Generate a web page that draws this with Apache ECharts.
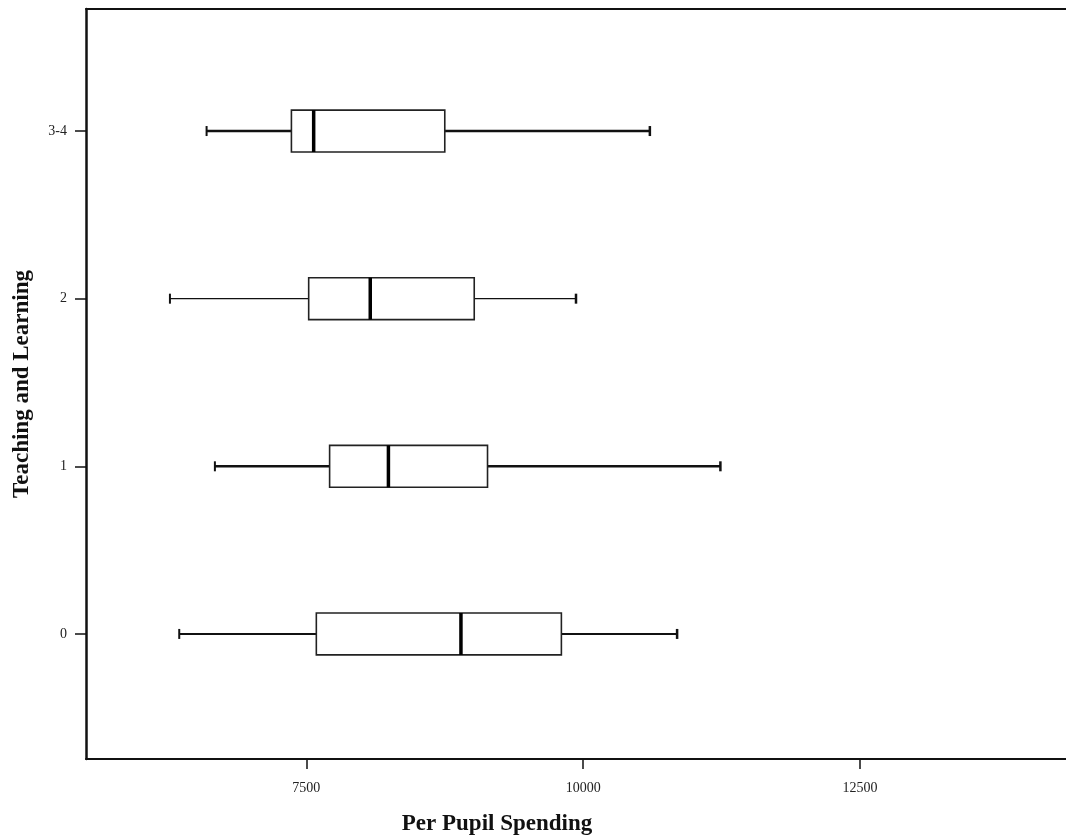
<!DOCTYPE html>
<html>
<head>
<meta charset="utf-8">
<script src="https://cdn.jsdelivr.net/npm/echarts@6/dist/echarts.min.js"></script>
<style>
  html, body { margin: 0; padding: 0; background: #fff; }
  #chart { width: 1066px; height: 838px; }
</style>
</head>
<body>
<div id="chart"></div>
<script>
// Categories (bottom to top)
const categories = ['0', '1', '2', '3-4'];
// Box statistics per category: [min, Q1, median, Q3, max]
const whiskerMin = [6352, 6674, 6268, 6599];
const q1Values   = [7590, 7710, 7521, 7365];
const medians    = [8896, 8241, 8077, 7566];
const q3Values   = [9803, 9136, 9016, 8750];
const whiskerMax = [10848, 11239, 9935, 10602];
// X tick labels
const xTicks = [7500, 10000, 12500];
const xTitle = 'Per Pupil Spending';
const yTitle = 'Teaching and Learning';

// style only (line widths of whiskers as printed)
const whiskerWidths = [2, 2.6, 1.4, 2.6];

const seriesData = categories.map((c, i) => [i, whiskerMin[i], q1Values[i], medians[i], q3Values[i], whiskerMax[i]]);

const chart = echarts.init(document.getElementById('chart'), null, { renderer: 'canvas' });
const serif = "'Liberation Serif', 'DejaVu Serif', serif";

chart.setOption({
  backgroundColor: '#fff',
  animation: false,
  grid: { left: 86, top: 9, width: 982, height: 750, containLabel: false },
  graphic: [{
    type: 'text',
    left: 'center',
    x: 497, y: 813,
    style: { text: xTitle, x: 0, y: 0, align: 'center', verticalAlign: 'top', font: "bold 23px 'Liberation Serif', serif", fill: '#111' },
    left: null
  }],
  xAxis: [{
    type: 'value',
    min: 5510,
    max: 14360,
    position: 'bottom',
    axisLine: { show: true, onZero: false, lineStyle: { color: '#111', width: 2 } },
    axisTick: { show: true, length: 10, lineStyle: { color: '#111', width: 1.5 }, customValues: xTicks },
    axisLabel: { show: true, margin: 22, fontFamily: serif, fontSize: 14, color: '#222', customValues: xTicks,
      formatter: function (v) { return String(v); } },
    splitLine: { show: false }
  }, {
    type: 'value',
    min: 5510,
    max: 14360,
    position: 'top',
    axisLine: { show: true, onZero: false, lineStyle: { color: '#111', width: 2 } },
    axisTick: { show: false },
    axisLabel: { show: false },
    splitLine: { show: false }
  }],
  yAxis: {
    type: 'value',
    min: -0.746,
    max: 3.728,
    name: yTitle,
    nameLocation: 'middle',
    nameGap: 52,
    nameTextStyle: { fontFamily: serif, fontSize: 23, fontWeight: 'bold', color: '#111' },
    axisLine: { show: true, onZero: false, lineStyle: { color: '#111', width: 2.5 } },
    axisTick: { show: true, length: 11, lineStyle: { color: '#111', width: 1.5 }, customValues: [0, 1, 2, 3] },
    axisLabel: {
      show: true, margin: 19, fontFamily: serif, fontSize: 14, color: '#222',
      customValues: [0, 1, 2, 3],
      formatter: function (v) { return categories[Math.round(v)]; }
    },
    splitLine: { show: false }
  },
  series: [{
    type: 'custom',
    xAxisIndex: 0,
    data: seriesData,
    encode: { x: [1, 2, 3, 4, 5], y: 0 },
    renderItem: function (params, api) {
      const c = api.value(0);
      const pMin = api.coord([api.value(1), c]);
      const pQ1 = api.coord([api.value(2), c]);
      const pMed = api.coord([api.value(3), c]);
      const pQ3 = api.coord([api.value(4), c]);
      const pMax = api.coord([api.value(5), c]);
      const h = api.size([0, 0.25])[1];
      const cap = 5;
      const y = pMin[1];
      const ww = whiskerWidths[params.dataIndex];
      const lineStyle = { stroke: '#111', lineWidth: ww, fill: null };
      return {
        type: 'group',
        children: [
          { type: 'line', shape: { x1: pMin[0], y1: y, x2: pQ1[0], y2: y }, style: lineStyle },
          { type: 'line', shape: { x1: pQ3[0], y1: y, x2: pMax[0], y2: y }, style: lineStyle },
          { type: 'line', shape: { x1: pMin[0], y1: y - cap, x2: pMin[0], y2: y + cap }, style: { stroke: '#111', lineWidth: 2 } },
          { type: 'line', shape: { x1: pMax[0], y1: y - cap, x2: pMax[0], y2: y + cap }, style: { stroke: '#111', lineWidth: 2.5 } },
          { type: 'rect', shape: { x: pQ1[0], y: y - h / 2, width: pQ3[0] - pQ1[0], height: h }, style: { fill: '#fff', stroke: '#222', lineWidth: 1.6 } },
          { type: 'line', shape: { x1: pMed[0], y1: y - h / 2, x2: pMed[0], y2: y + h / 2 }, style: { stroke: '#000', lineWidth: 3.5 } }
        ]
      };
    }
  }]
});
</script>
</body>
</html>
